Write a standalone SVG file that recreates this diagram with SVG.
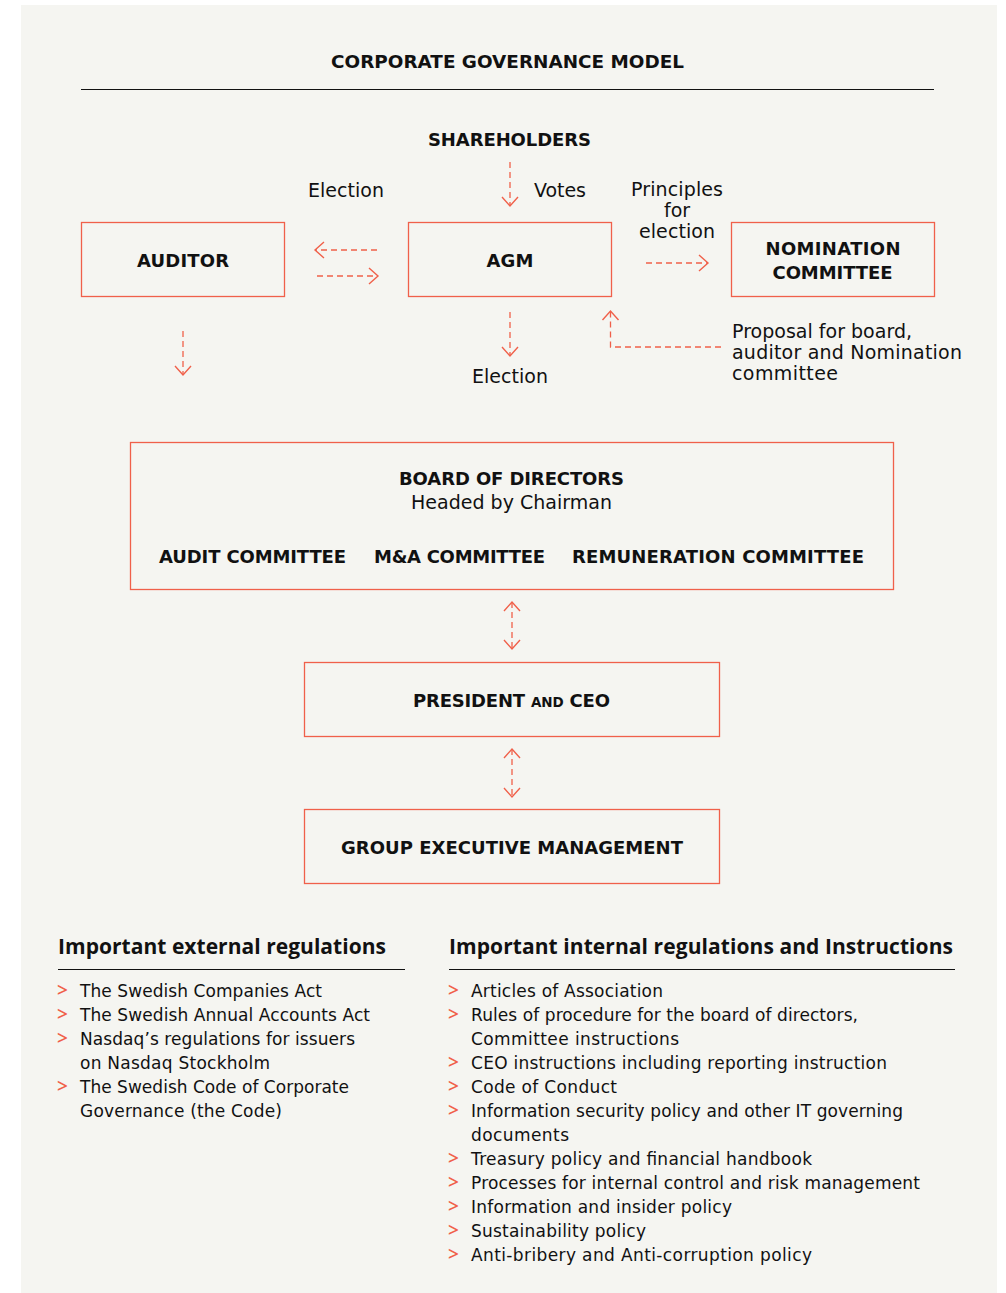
<svg xmlns="http://www.w3.org/2000/svg" width="1006" height="1293" viewBox="0 0 1006 1293">
<style>
text{font-family:"DejaVu Sans","Liberation Sans",sans-serif;fill:#111}
.t{font-size:18px;font-weight:700}
.lbl{font-size:19px}
.box{fill:none;stroke:#f0604a;stroke-width:1.3}
.c{fill:none;stroke:#f0604a;stroke-width:1.3;stroke-dasharray:6 4}
.h{font-family:"Open Sans","DejaVu Sans",sans-serif;font-size:21px;font-weight:700}
.li{font-size:17px}
.gt{font-family:"Open Sans","DejaVu Sans",sans-serif;fill:#f0604a;font-size:19px;font-weight:600}
.m{text-anchor:middle}
</style>
<defs>
<marker id="ah" markerUnits="userSpaceOnUse" markerWidth="20" markerHeight="20" refX="10" refY="10" orient="auto-start-reverse" viewBox="0 0 20 20">
<path d="M1,2 L10,10 L1,18" fill="none" stroke="#f0604a" stroke-width="1.4"/>
</marker>
</defs>
<rect x="21" y="5" width="976" height="1288" fill="#f5f5f1"/>
<text x="507.5" y="68" class="t m" textLength="353" lengthAdjust="spacingAndGlyphs">CORPORATE GOVERNANCE MODEL</text>
<line x1="81" y1="89.5" x2="934" y2="89.5" stroke="#111" stroke-width="1.2"/>
<g id="shareholders"><text x="509.5" y="146" class="t m" textLength="163">SHAREHOLDERS</text></g>
<g id="auditor"><rect class="box" x="81.5" y="222.5" width="203" height="74"/><text x="183" y="267" class="t m" textLength="92">AUDITOR</text></g>
<g id="agm"><rect class="box" x="408.5" y="222.5" width="203" height="74"/><text x="510" y="267" class="t m" textLength="47">AGM</text></g>
<g id="nomination"><rect class="box" x="731.5" y="222.5" width="203" height="74"/><text x="833" y="255" class="t m" textLength="135">NOMINATION</text><text x="832.5" y="279" class="t m" textLength="120">COMMITTEE</text></g>
<g id="board"><rect class="box" x="130.5" y="442.5" width="763" height="147"/>
<text x="511.5" y="485" class="t m" textLength="225">BOARD OF DIRECTORS</text>
<text x="511.5" y="509" class="lbl m" textLength="201">Headed by Chairman</text>
<text x="159" y="563" class="t" textLength="187">AUDIT COMMITTEE</text>
<text x="374" y="563" class="t" textLength="171">M&amp;A COMMITTEE</text>
<text x="572" y="563" class="t" textLength="292">REMUNERATION COMMITTEE</text></g>
<g id="president"><rect class="box" x="304.5" y="662.5" width="415" height="74"/><text x="511.5" y="707" class="t m" textLength="197">PRESIDENT <tspan style="font-size:13.5px">AND</tspan> CEO</text></g>
<g id="gem"><rect class="box" x="304.5" y="809.5" width="415" height="74"/><text x="512" y="854" class="t m" textLength="342">GROUP EXECUTIVE MANAGEMENT</text></g>
<g id="connectors">
<line class="c" x1="510" y1="162" x2="510" y2="206" marker-end="url(#ah)"/>
<line class="c" x1="377" y1="250" x2="315" y2="250" marker-end="url(#ah)"/>
<line class="c" x1="317" y1="276" x2="378" y2="276" marker-end="url(#ah)"/>
<line class="c" x1="183" y1="331" x2="183" y2="375" marker-end="url(#ah)"/>
<line class="c" x1="510" y1="312" x2="510" y2="356" marker-end="url(#ah)"/>
<line class="c" x1="646" y1="263" x2="708" y2="263" marker-end="url(#ah)"/>
<polyline class="c" points="721,347 610.5,347 610.5,311" marker-end="url(#ah)"/>
<line class="c" x1="512" y1="602" x2="512" y2="649" marker-start="url(#ah)" marker-end="url(#ah)"/>
<line class="c" x1="512" y1="749" x2="512" y2="797" marker-start="url(#ah)" marker-end="url(#ah)"/>
<text x="346" y="197" class="lbl m" textLength="76">Election</text>
<text x="534" y="197" class="lbl" textLength="52">Votes</text>
<text x="677" y="196" class="lbl m" textLength="92">Principles</text>
<text x="677" y="217" class="lbl m" textLength="26">for</text>
<text x="677" y="238" class="lbl m" textLength="76">election</text>
<text x="510" y="383" class="lbl m" textLength="76">Election</text>
<text x="732" y="338" class="lbl" textLength="180">Proposal for board,</text>
<text x="732" y="359" class="lbl" textLength="230">auditor and Nomination</text>
<text x="732" y="380" class="lbl" textLength="106">committee</text>
</g>
<g id="external">
<text x="58" y="954" class="h" textLength="328">Important external regulations</text>
<line x1="58" y1="969.5" x2="405" y2="969.5" stroke="#111" stroke-width="1.2"/>
<text x="57" y="997" class="gt">&gt;</text><text x="80" y="997" class="li" textLength="242">The Swedish Companies Act</text>
<text x="57" y="1021" class="gt">&gt;</text><text x="80" y="1021" class="li" textLength="290">The Swedish Annual Accounts Act</text>
<text x="57" y="1045" class="gt">&gt;</text><text x="80" y="1045" class="li" textLength="275">Nasdaq’s regulations for issuers</text>
<text x="80" y="1069" class="li" textLength="190">on Nasdaq Stockholm</text>
<text x="57" y="1093" class="gt">&gt;</text><text x="80" y="1093" class="li" textLength="269">The Swedish Code of Corporate</text>
<text x="80" y="1117" class="li" textLength="202">Governance (the Code)</text>
</g>
<g id="internal">
<text x="449" y="954" class="h" textLength="504">Important internal regulations and Instructions</text>
<line x1="449" y1="969.5" x2="955" y2="969.5" stroke="#111" stroke-width="1.2"/>
<text x="448" y="997" class="gt">&gt;</text><text x="471" y="997" class="li" textLength="192">Articles of Association</text>
<text x="448" y="1021" class="gt">&gt;</text><text x="471" y="1021" class="li" textLength="387">Rules of procedure for the board of directors,</text>
<text x="471" y="1045" class="li" textLength="208">Committee instructions</text>
<text x="448" y="1069" class="gt">&gt;</text><text x="471" y="1069" class="li" textLength="416">CEO instructions including reporting instruction</text>
<text x="448" y="1093" class="gt">&gt;</text><text x="471" y="1093" class="li" textLength="146">Code of Conduct</text>
<text x="448" y="1117" class="gt">&gt;</text><text x="471" y="1117" class="li" textLength="432">Information security policy and other IT governing</text>
<text x="471" y="1141" class="li" textLength="98">documents</text>
<text x="448" y="1165" class="gt">&gt;</text><text x="471" y="1165" class="li" textLength="341">Treasury policy and financial handbook</text>
<text x="448" y="1189" class="gt">&gt;</text><text x="471" y="1189" class="li" textLength="449">Processes for internal control and risk management</text>
<text x="448" y="1213" class="gt">&gt;</text><text x="471" y="1213" class="li" textLength="261">Information and insider policy</text>
<text x="448" y="1237" class="gt">&gt;</text><text x="471" y="1237" class="li" textLength="175">Sustainability policy</text>
<text x="448" y="1261" class="gt">&gt;</text><text x="471" y="1261" class="li" textLength="341">Anti-bribery and Anti-corruption policy</text>
</g>
</svg>
